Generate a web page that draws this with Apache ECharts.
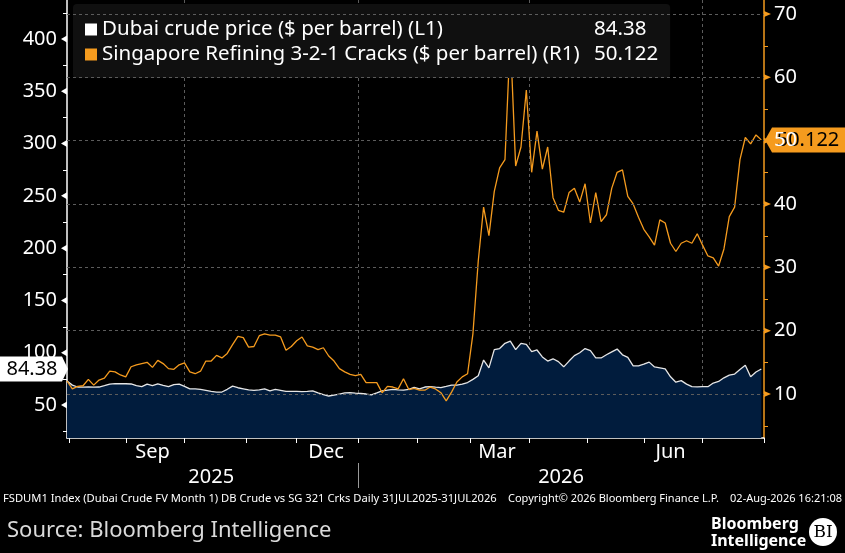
<!DOCTYPE html>
<html>
<head>
<meta charset="utf-8">
<script src="https://cdn.jsdelivr.net/npm/echarts@6/dist/echarts.min.js"></script>
<style>
  html, body { margin: 0; padding: 0; background: #000; }
  #chart { width: 845px; height: 553px; }
</style>
</head>
<body>
<div id="chart"></div>
<script>
// 1. 数据部分
const dubaiName = 'Dubai crude price ($ per barrel) (L1)';
const crackName = 'Singapore Refining 3-2-1 Cracks ($ per barrel) (R1)';
const holidays = ['2025-11-27'];
const monthNames = ['Jan', 'Feb', 'Mar', 'Apr', 'May', 'Jun', 'Jul', 'Aug', 'Sep', 'Oct', 'Nov', 'Dec'];
const labelMonths = [8, 11, 2, 5];        // Sep Dec Mar Jun
const gridMonths = [0, 3, 6, 9];          // 季度分隔线
const leftTicks = [50, 100, 150, 200, 250, 300, 350, 400];
const leftMinor = [25, 75, 125, 175, 225, 275, 325, 375, 425];
const rightTicks = [10, 20, 30, 40, 50, 60, 70];
const rightMinor = [5, 15, 25, 35, 45, 55, 65];

// 每两个交易日读一个值
const STEP = 2;
const dubai = [
  73.0, 69.0, 67.2, 67.0, 67.2, 67.0, 67.2, 68.5, 70.0, 70.5,
  70.3, 70.3, 70.1, 68.5, 67.5, 70.0, 68.5, 70.3, 68.8, 67.5,
  69.5, 70.0, 67.8, 65.5, 65.5, 65.0, 64.0, 63.0, 62.4, 62.4,
  65.0, 68.0, 66.5, 65.5, 64.5, 64.0, 64.5, 65.5, 63.5, 65.0,
  64.0, 63.0, 63.0, 63.0, 62.8, 63.0, 63.5, 61.5, 60.0, 58.6,
  59.5, 60.5, 61.5, 61.8, 61.3, 61.0, 60.5, 59.6, 61.5, 63.5,
  64.3, 65.0, 64.5, 64.3, 65.0, 66.9, 65.5, 67.2, 67.5, 67.0,
  66.6, 67.8, 69.1, 69.1, 70.0, 71.5, 74.5, 78.0, 93.0, 85.5,
  103.0, 104.0, 109.0, 111.0, 103.0, 109.0, 108.0, 101.0, 102.6, 96.0,
  92.0, 94.2, 91.5, 86.5, 92.0, 97.2, 100.0, 104.0, 102.0, 95.0,
  95.0, 98.0, 100.8, 103.5, 98.0, 95.6, 87.5, 87.5, 89.0, 91.0,
  86.4, 85.5, 84.5, 77.0, 71.8, 73.3, 70.0, 67.5, 67.3, 67.5,
  67.5, 71.0, 72.5, 76.0, 78.5, 79.6, 84.0, 88.0, 77.0, 81.5,
  84.38
];
const cracks = [
  12.05, 10.8, 11.2, 11.3, 12.3, 11.4, 12.2, 12.5, 13.6, 13.5,
  13.0, 12.7, 14.3, 14.6, 14.8, 15.0, 14.2, 15.3, 14.8, 14.0,
  13.9, 14.6, 14.9, 13.5, 13.2, 13.6, 15.2, 15.2, 16.1, 15.7,
  16.4, 17.8, 19.1, 18.9, 17.4, 17.5, 19.2, 19.5, 19.3, 19.3,
  19.0, 16.9, 17.5, 18.4, 19.0, 17.6, 17.4, 17.0, 17.3, 16.0,
  15.2, 14.0, 13.5, 13.1, 12.9, 13.1, 11.8, 11.8, 11.8, 10.2,
  11.2, 11.1, 10.8, 12.4, 10.7, 10.9, 10.6, 10.6, 11.1, 10.8,
  10.2, 8.9, 10.3, 11.9, 12.7, 13.2, 19.5, 31.0, 39.5, 35.0,
  42.0, 45.7, 47.0, 66.5, 46.0, 49.0, 58.0, 45.0, 51.5, 45.5,
  49.0, 41.0, 39.0, 38.7, 41.8, 42.5, 40.3, 43.2, 37.0, 41.8,
  37.2, 38.3, 42.5, 45.0, 45.4, 41.2, 40.0, 37.9, 36.0, 34.8,
  33.5, 37.5, 37.0, 33.8, 32.5, 33.8, 34.2, 33.8, 35.3, 33.5,
  31.8, 31.5, 30.2, 32.9, 38.0, 39.5, 47.0, 50.5, 49.5, 50.9,
  50.122
];

// 2. 交易日类目（周一到周五）
const dates = [];
for (let d = new Date(Date.UTC(2025, 6, 31)); d <= new Date(Date.UTC(2026, 7, 3)); d.setUTCDate(d.getUTCDate() + 1)) {
  const s = d.toISOString().slice(0, 10);
  const wd = d.getUTCDay();
  if (wd === 0 || wd === 6 || holidays.includes(s)) continue;
  dates.push(s);
}
const monthOf = s => +s.slice(5, 7) - 1;
const monthStarts = new Set();
const gridIdx = new Set();
const labelIdx = new Set();
const spans = {};
dates.forEach((s, i) => {
  const key = s.slice(0, 7);
  if (!spans[key]) spans[key] = [i, i];
  spans[key][1] = i;
  if (i > 0 && s.slice(0, 7) !== dates[i - 1].slice(0, 7)) {
    monthStarts.add(i);
    if (gridMonths.includes(monthOf(s))) gridIdx.add(i);
  }
});
Object.keys(spans).forEach(key => {
  if (labelMonths.includes(+key.slice(5, 7) - 1)) {
    labelIdx.add(Math.floor((spans[key][0] + spans[key][1]) / 2));
  }
});
const yearStart = dates.findIndex(s => s.startsWith('2026'));
const yearLabelIdx = new Set([Math.floor(yearStart / 2), Math.floor((yearStart + dates.length - 1) / 2)]);

const pairs = arr => arr.map((v, k) => [dates[Math.min(k * STEP, dates.length - 1)], v]);
const lastDubai = dubai[dubai.length - 1];
const lastCrack = cracks[cracks.length - 1];

const FONT = 'Noto Sans';
const ORANGE = '#f59b1e';
const GRID = '#5c5c5c';

const chart = echarts.init(document.getElementById('chart'));

const option = {
  animation: false,
  backgroundColor: '#000',
  grid: { left: 67, right: 81, top: 0, bottom: 115, containLabel: false },
  legend: {
    left: 73, top: 4,
    orient: 'vertical',
    selectedMode: false,
    backgroundColor: '#101010',
    borderRadius: 4,
    padding: [15, 12, 13, 12],
    itemGap: 4,
    itemWidth: 12, itemHeight: 12,
    icon: 'rect',
    data: [dubaiName, crackName],
    formatter: name => `{n|${name}}{v|${name === dubaiName ? lastDubai : lastCrack}}`,
    textStyle: {
      color: '#fff', fontFamily: FONT, fontSize: 20.5,
      rich: {
        n: { width: 492, color: '#fff', fontFamily: FONT, fontSize: 20.5, lineHeight: 22 },
        v: { color: '#fff', fontFamily: FONT, fontSize: 20.5, lineHeight: 22 }
      }
    }
  },
  xAxis: [
    {
      type: 'category', data: dates, boundaryGap: false,
      axisLine: { lineStyle: { color: '#fff', width: 1.5 } },
      axisTick: { show: true, length: 5, interval: i => monthStarts.has(i), lineStyle: { color: '#fff' } },
      axisLabel: {
        interval: i => labelIdx.has(i),
        formatter: v => monthNames[monthOf(v)],
        color: '#fff', fontFamily: FONT, fontSize: 20, margin: 4
      },
      splitLine: { show: true, interval: i => gridIdx.has(i), lineStyle: { color: GRID, type: [3, 3] } }
    },
    {
      type: 'category', data: dates, boundaryGap: false, position: 'bottom', offset: 25,
      axisLine: { show: false },
      axisTick: { show: true, length: 25, interval: i => i === yearStart, lineStyle: { color: '#9a9a9a' } },
      axisLabel: {
        interval: i => yearLabelIdx.has(i),
        formatter: v => v.slice(0, 4),
        color: '#fff', fontFamily: FONT, fontSize: 20, margin: 4
      },
      splitLine: { show: false }
    }
  ],
  yAxis: [
    {
      type: 'value', position: 'left',
      min: 18.44, max: 437.3, minInterval: 50, maxInterval: 50,
      axisLine: { show: true, lineStyle: { color: '#fff', width: 1.5 } },
      axisTick: { show: false },
      axisLabel: { color: '#fff', fontFamily: FONT, fontSize: 20, margin: 10, showMinLabel: false, showMaxLabel: false },
      splitLine: { show: false }
    },
    {
      type: 'value', position: 'right',
      min: 3.05, max: 72.21, minInterval: 10, maxInterval: 10,
      axisLine: { show: true, lineStyle: { color: ORANGE, width: 1.5 } },
      axisTick: { show: false },
      axisLabel: { color: '#fff', fontFamily: FONT, fontSize: 20, margin: 10, showMinLabel: false, showMaxLabel: false },
      splitLine: { show: false }
    }
  ],
  series: [
    {
      name: dubaiName, type: 'line', xAxisIndex: 0, yAxisIndex: 0,
      data: pairs(dubai), showSymbol: false, symbol: 'none',
      itemStyle: { color: '#ffffff' },
      lineStyle: { color: '#e6e6e6', width: 1.3 },
      areaStyle: { color: '#011c3d', origin: 'start', opacity: 1 },
      z: 2
    },
    {
      name: crackName, type: 'line', xAxisIndex: 0, yAxisIndex: 1,
      data: pairs(cracks), showSymbol: false, symbol: 'none',
      itemStyle: { color: ORANGE },
      lineStyle: { color: ORANGE, width: 1.3 },
      z: 3,
      markLine: {
        silent: true, symbol: ['none', 'none'], animation: false,
        label: { show: false },
        lineStyle: { color: GRID, type: [3, 3], width: 1 },
        data: rightTicks.map(v => ({ yAxis: v }))
      }
    }
  ]
};

chart.setOption(option);

// 3. 坐标轴标记、末值标签、页脚
const yL = v => chart.convertToPixel({ yAxisIndex: 0 }, v);
const yR = v => chart.convertToPixel({ yAxisIndex: 1 }, v);
const txt = (x, y, text, font, fill, align, vAlign) => ({
  type: 'text', x, y, silent: true,
  style: { text, font, fill, align, textAlign: align, verticalAlign: vAlign, textVerticalAlign: vAlign }
});

const graphic = [];
leftTicks.forEach(v => {
  const y = yL(v);
  graphic.push({ type: 'polygon', silent: true, shape: { points: [[67, y - 3.5], [67, y + 3.5], [61, y]] }, style: { fill: '#fff' } });
});
leftMinor.forEach(v => {
  const y = Math.round(yL(v)) + 0.5;
  graphic.push({ type: 'line', silent: true, shape: { x1: 63, y1: y, x2: 67, y2: y }, style: { stroke: '#fff', lineWidth: 1 } });
});
rightTicks.forEach(v => {
  const y = yR(v);
  graphic.push({ type: 'polygon', silent: true, shape: { points: [[764, y - 3], [764, y + 3], [771, y]] }, style: { fill: ORANGE } });
});
rightMinor.forEach(v => {
  const y = Math.round(yR(v)) + 0.5;
  graphic.push({ type: 'line', silent: true, shape: { x1: 764, y1: y, x2: 768, y2: y }, style: { stroke: ORANGE, lineWidth: 1 } });
});

const yd = yL(lastDubai);
graphic.push({ type: 'polygon', silent: true, shape: { points: [[0, yd - 12.5], [62, yd - 12.5], [68, yd], [62, yd + 12.5], [0, yd + 12.5]] }, style: { fill: '#fff' } });
graphic.push(txt(32, yd, String(lastDubai), `20px "${FONT}"`, '#000', 'center', 'middle'));

const yc = yR(lastCrack);
graphic.push({ type: 'polygon', silent: true, shape: { points: [[765, yc], [772, yc - 12.5], [845, yc - 12.5], [845, yc + 12.5], [772, yc + 12.5]] }, style: { fill: ORANGE } });
graphic.push(txt(808, yc, String(lastCrack), `20px "${FONT}"`, '#000', 'center', 'middle'));

// 页脚
graphic.push(txt(3, 499, 'FSDUM1 Index (Dubai Crude FV Month 1) DB Crude vs SG 321 Crks Daily 31JUL2025-31JUL2026', `11.2px "${FONT}"`, '#fff', 'left', 'middle'));
graphic.push(txt(508, 499, 'Copyright\u00a9 2026 Bloomberg Finance L.P.', `11px "${FONT}"`, '#fff', 'left', 'middle'));
graphic.push(txt(842, 499, '02-Aug-2026 16:21:08', `11px "${FONT}"`, '#fff', 'right', 'middle'));
graphic.push(txt(7, 531, 'Source: Bloomberg Intelligence', `22px "${FONT}"`, '#dadada', 'left', 'middle'));
graphic.push(txt(711, 524, 'Bloomberg', `bold 16px "${FONT}"`, '#fff', 'left', 'middle'));
graphic.push(txt(711, 541, 'Intelligence', `bold 16px "${FONT}"`, '#fff', 'left', 'middle'));
graphic.push({ type: 'circle', silent: true, shape: { cx: 823, cy: 532, r: 14 }, style: { fill: '#fff' } });
graphic.push(txt(823, 533, 'BI', '17px "DejaVu Serif"', '#000', 'center', 'middle'));

chart.setOption({ graphic });
</script>
</body>
</html>
